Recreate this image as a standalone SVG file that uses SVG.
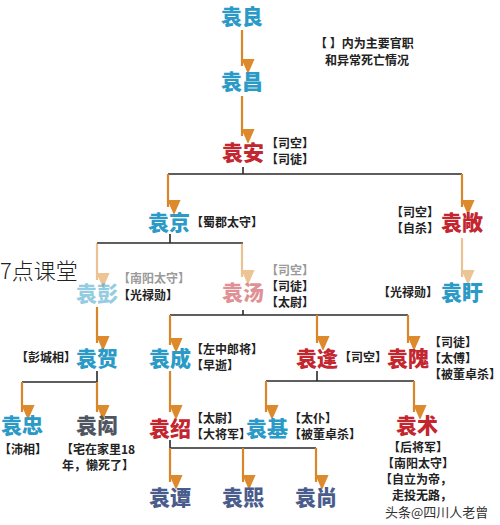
<svg xmlns="http://www.w3.org/2000/svg" width="500" height="525" viewBox="0 0 500 525">
<style>
.n{font-family:"Noto Sans CJK SC","Noto Sans",sans-serif;font-weight:900;font-size:21px;text-anchor:middle}
.cy{fill:#2b9ac6}
.rd{fill:#c3262f}
.gy{fill:#4e5560}
.bl{fill:#4a5c8c}
.l{font-family:"Noto Sans CJK SC","Noto Sans",sans-serif;font-weight:700;font-size:12px;fill:#222}
.s{text-anchor:start}
.e{text-anchor:end}
.m{text-anchor:middle}
.c{stroke:#2a2a2a;stroke-width:1.6;fill:none}
.a{stroke:#d8862a;stroke-width:2.2;fill:none;marker-end:url(#ah)}
.f{opacity:0.5}
</style>
<defs>
<marker id="ah" markerUnits="userSpaceOnUse" markerWidth="14" markerHeight="16" refX="7" refY="14" orient="auto-start-reverse" viewBox="0 0 14 16">
<path d="M0,0 L14,0 L7,16 Z" fill="#dc8a2c" transform="rotate(-90 7 8)"/>
</marker>
</defs>
<g id="legend">
<text class="l s" x="315" y="48">【 】内为主要官职</text>
<text class="l s" x="325" y="65">和异常死亡情况</text>
</g>
<g id="connectors">
<path class="c" d="M243,167V174M168,174H462"/>
<path class="c" d="M170,234V243M97,243H243"/>
<path class="c" d="M243,310V315M170,315H408"/>
<path class="c" d="M97,371V382M22,382H97"/>
<path class="c" d="M317,371V381M266,381H414"/>
<path class="c" d="M170,440V448M170,448H316"/>
<path class="a" d="M242,30V66"/>
<path class="a" d="M242,96V136"/>
<path class="a" d="M168,174V207"/>
<path class="a" d="M462,174V207"/>
<g class="f">
<path class="a" d="M97,243V280"/>
<path class="a" d="M242,243V277"/>
<path class="a" d="M462,238V277"/>
</g>
<path class="a" d="M97,307V343"/>
<path class="a" d="M170,315V345"/>
<path class="a" d="M317,315V343"/>
<path class="a" d="M408,315V343"/>
<path class="a" d="M22,382V412"/>
<path class="a" d="M97,382V412"/>
<path class="a" d="M170,371V412"/>
<path class="a" d="M266,381V412"/>
<path class="a" d="M414,381V412"/>
<path class="a" d="M170,448V482"/>
<path class="a" d="M243,448V482"/>
<path class="a" d="M316,448V482"/>
</g>
<g id="yuanliang"><text class="n cy" x="242" y="24">袁良</text></g>
<g id="yuanchang"><text class="n cy" x="242" y="89">袁昌</text></g>
<g id="yuanan"><text class="n rd" x="243" y="160">袁安</text>
<text class="l s" x="266" y="148">【司空】</text><text class="l s" x="266" y="164">【司徒】</text></g>
<g id="yuanjing"><text class="n cy" x="169" y="230">袁京</text>
<text class="l s" x="191" y="227">【蜀郡太守】</text></g>
<g id="yuanchang2"><text class="n rd" x="462" y="230">袁敞</text>
<text class="l e" x="439" y="217">【司空】</text><text class="l e" x="439" y="233">【自杀】</text></g>
<g id="yuanxu"><text class="n cy" x="462" y="300">袁盱</text>
<text class="l e" x="438" y="297">【光禄勋】</text></g>
<g id="yuanpeng"><text class="n cy f" x="97" y="301">袁彭</text>
<text class="l s" x="118" y="283" style="fill:#9a9a9a">【南阳太守】</text>
<text class="l s" x="118" y="300">【光禄勋】</text></g>
<g id="yuantang"><text class="n rd f" x="243" y="300">袁汤</text>
<text class="l s" x="266" y="275" style="fill:#9a9a9a">【司空】</text>
<text class="l s" x="266" y="291">【司徒】</text><text class="l s" x="266" y="307">【太尉】</text></g>
<g id="watermark1"><text x="0" y="279" style="font-family:'Noto Sans CJK SC',sans-serif;font-weight:300;font-size:22px;fill:#222">7点课堂</text></g>
<g id="yuanhe"><text class="n cy" x="97" y="366">袁贺</text>
<text class="l e" x="76" y="362">【彭城相】</text></g>
<g id="yuancheng"><text class="n cy" x="170" y="366">袁成</text>
<text class="l s" x="191" y="354">【左中郎将】</text><text class="l s" x="191" y="370">【早逝】</text></g>
<g id="yuanfeng"><text class="n rd" x="317" y="366">袁逢</text>
<text class="l s" x="339" y="362">【司空】</text></g>
<g id="yuanwei"><text class="n rd" x="408" y="366">袁隗</text>
<text class="l s" x="429" y="347">【司徒】</text><text class="l s" x="429" y="363">【太傅】</text><text class="l s" x="429" y="379">【被董卓杀】</text></g>
<g id="yuanzhong"><text class="n cy" x="22" y="433">袁忠</text>
<text class="l m" x="23" y="454">【沛相】</text></g>
<g id="yuanhong"><text class="n gy" x="97" y="433">袁闳</text>
<text class="l m" x="98" y="454">【宅在家里18</text><text class="l m" x="98" y="470">年，懒死了】</text></g>
<g id="yuanshao"><text class="n rd" x="170" y="436">袁绍</text>
<text class="l s" x="191" y="423">【太尉】</text><text class="l s" x="191" y="439">【大将军】</text></g>
<g id="yuanji"><text class="n cy" x="267" y="436">袁基</text>
<text class="l s" x="289" y="423">【太仆】</text><text class="l s" x="289" y="439">【被董卓杀】</text></g>
<g id="yuanshu"><text class="n rd" x="417" y="433">袁术</text>
<text class="l m" x="418" y="452">【后将军】</text><text class="l m" x="418" y="468">【南阳太守】</text>
<text class="l m" x="416" y="484">【自立为帝，</text><text class="l m" x="422" y="500">走投无路，</text></g>
<g id="watermark2"><text x="385" y="517" style="font-family:'Noto Sans CJK SC',sans-serif;font-size:13px;fill:#333">头条@四川人老曾</text></g>
<g id="yuantan"><text class="n bl" x="170" y="505">袁谭</text></g>
<g id="yuanxi"><text class="n bl" x="243" y="505">袁熙</text></g>
<g id="yuanshang"><text class="n bl" x="316" y="505">袁尚</text></g>
</svg>
